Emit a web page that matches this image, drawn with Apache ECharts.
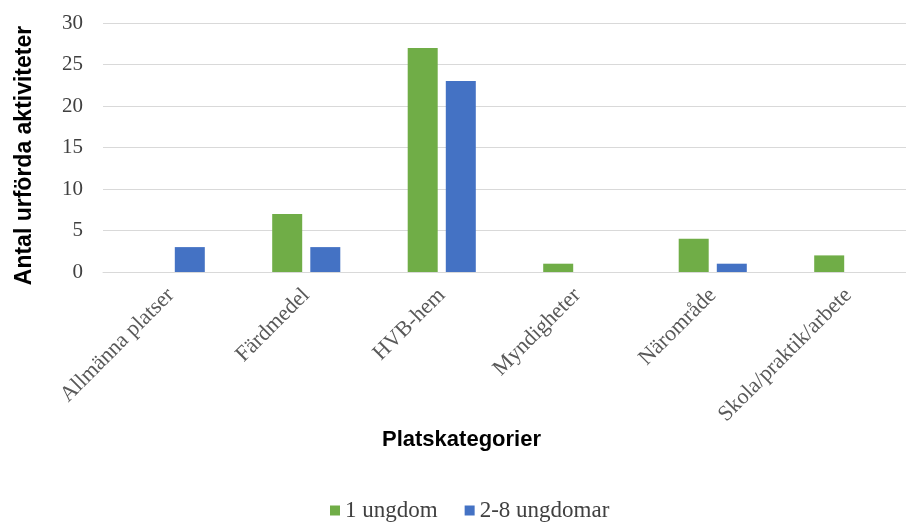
<!DOCTYPE html>
<html><head><meta charset="utf-8">
<script src="https://cdn.jsdelivr.net/npm/echarts@6/dist/echarts.min.js"></script>
<style>html,body{margin:0;padding:0;background:#fff}#c{width:906px;height:523px}</style>
</head><body><div id="c"></div>
<script>
const categories = ['Allmänna platser','Färdmedel','HVB-hem','Myndigheter','Närområde','Skola/praktik/arbete'];
const oneYouth = [0, 7, 27, 1, 4, 2];
const manyYouth = [3, 3, 23, 0, 1, 0];
const seriesNames = ['1 ungdom', '2-8 ungdomar'];
const chart = echarts.init(document.getElementById('c'), null, {renderer:'canvas'});
chart.setOption({
  animation:false,
  grid:{left:103, top:23, bottom:251, width:813, containLabel:false, outerBoundsMode:'none'},
  legend:{
    data:seriesNames, top:494, left:325, itemWidth:10, itemHeight:10, itemGap:27,
    icon:'rect',
    textStyle:{fontFamily:'Liberation Serif', fontSize:23, color:'#404040'}
  },
  xAxis:{
    type:'category', data:categories,
    name:'Platskategorier', nameLocation:'middle', nameGap:155,
    nameTextStyle:{fontFamily:'Liberation Sans', fontWeight:'bold', fontSize:22, color:'#000', padding:[0,96,0,0]},
    axisLine:{lineStyle:{color:'#d9d9d9'}},
    axisTick:{show:false},
    axisLabel:{rotate:45, interval:0, fontFamily:'Liberation Serif', fontSize:22, color:'#595959', margin:20}
  },
  yAxis:{
    type:'value', min:0, max:30, interval:5,
    name:'Antal urförda aktiviteter', nameLocation:'middle', nameGap:67,
    nameTextStyle:{fontFamily:'Liberation Sans', fontWeight:'bold', fontSize:23, color:'#000', padding:[0,16,0,0]},
    axisLine:{show:false}, axisTick:{show:false},
    axisLabel:{fontFamily:'Liberation Serif', fontSize:21, color:'#404040', margin:20},
    splitLine:{lineStyle:{color:'#d9d9d9'}}
  },
  series:[
    {name:seriesNames[0], type:'bar', data:oneYouth, itemStyle:{color:'#70AD47'}, barWidth:30, barGap:'27%'},
    {name:seriesNames[1], type:'bar', data:manyYouth, itemStyle:{color:'#4472C4'}, barWidth:30, barGap:'27%'}
  ]
});
</script></body></html>
